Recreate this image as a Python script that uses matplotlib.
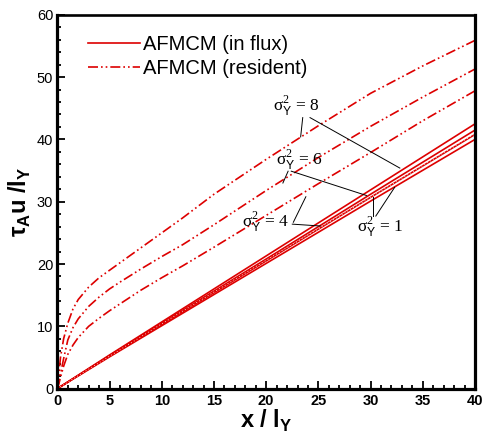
import numpy as np
import matplotlib
matplotlib.use("Agg")
from matplotlib import pyplot as plt

plt.rcParams['font.family'] = ['Liberation Sans', 'DejaVu Sans']
plt.rcParams['mathtext.fontset'] = 'custom'
plt.rcParams['mathtext.rm'] = 'Liberation Serif'
plt.rcParams['mathtext.sf'] = 'Liberation Sans'
plt.rcParams['mathtext.bf'] = 'Liberation Sans:bold'

# in flux curves (solid)
x_flux = [0, 5, 10, 20, 30, 40]
flux_s8 = [0, 5.4, 10.7, 21.3, 31.9, 42.5]
flux_s6 = [0, 5.3, 10.5, 20.8, 31.2, 41.5]
flux_s4 = [0, 5.2, 10.3, 20.5, 30.7, 40.8]
flux_s1 = [0, 5.1, 10.1, 20.1, 30.1, 40.0]

# resident curves (dash dot dot)
x_res = [0, 0.15, 0.3, 0.6, 1, 1.5, 2, 3, 4, 5, 6, 8, 10, 12, 15, 20, 25, 30, 35, 40]
res_s8 = [0, 2.5, 5.0, 8.0, 10.5, 12.8, 14.3, 16.3, 17.8, 19.0, 20.2, 22.6, 25.0, 27.4, 31.2, 36.8, 42.2, 47.4, 51.8, 55.9]
res_s6 = [0, 1.2, 2.4, 4.8, 7.8, 9.8, 11.2, 13.2, 14.7, 16.0, 17.1, 19.2, 21.2, 23.1, 26.3, 31.8, 37.1, 42.1, 46.8, 51.3]
res_s4 = [0, 0.8, 1.8, 3.6, 5.5, 7.0, 8.2, 10.0, 11.3, 12.5, 13.6, 15.8, 17.8, 19.7, 22.7, 27.8, 32.9, 37.9, 43.0, 47.8]
x_res1 = [0, 5, 10, 20, 30, 40]
res_s1 = [0, 5.2, 10.4, 20.6, 30.7, 40.9]

red = '#dd0000'
dashdotdot = (0, (6, 1.8, 1, 1.8, 1, 1.8))

fig = plt.figure(figsize=(4.82, 4.36), dpi=100)
ax = fig.add_axes([0.119, 0.1087, 0.8665, 0.8573])

l1, = ax.plot(x_flux, flux_s8, color=red, lw=1.2)
ax.plot(x_flux, flux_s6, color=red, lw=1.2)
ax.plot(x_flux, flux_s4, color=red, lw=1.2)
ax.plot(x_flux, flux_s1, color=red, lw=1.2)
l2, = ax.plot(x_res, res_s8, color=red, lw=1.2, ls=dashdotdot)
ax.plot(x_res, res_s6, color=red, lw=1.2, ls=dashdotdot)
ax.plot(x_res, res_s4, color=red, lw=1.2, ls=dashdotdot)
ax.plot(x_res1, res_s1, color='white', lw=0.6, ls=(0, (1, 3)))

ax.set_xlim(0, 40)
ax.set_ylim(0, 60)
ax.set_xticks(np.arange(0, 41, 5))
ax.set_xticks(np.arange(0, 41, 1), minor=True)
ax.set_yticks(np.arange(0, 61, 10))
ax.set_yticks(np.arange(0, 61, 2), minor=True)
ax.tick_params(which='both', direction='in', top=False, right=False, width=1.3)
ax.tick_params(which='major', length=6)
ax.tick_params(which='minor', length=3)
ax.tick_params(axis='x', labelsize=10.5, pad=4)
ax.tick_params(axis='y', labelsize=10.5, pad=3)
for lab in ax.get_xticklabels():
    lab.set_fontweight('bold')
for s in ax.spines.values():
    s.set_linewidth(2.3)
ax.spines['top'].set_linewidth(1.9)

ax.set_xlabel(r'x / l$_{\mathbf{Y}}$', fontsize=17, fontweight='bold', labelpad=0)
ax.set_ylabel(r'$\mathbf{\tau}_{\mathbf{A}}$u /l$_{\mathbf{Y}}$', fontsize=17, fontweight='bold', labelpad=3)

ax.legend([l1, l2], ['AFMCM (in flux)', 'AFMCM (resident)'], loc='upper left',
          bbox_to_anchor=(0.03, 0.995), frameon=False, fontsize=14.5,
          handlelength=2.6, handletextpad=0.15, labelspacing=0.28)

# labels with leader lines
lab_kw = dict(fontsize=12.5, family='Liberation Serif', ha='center', va='center')
sig = r'$\mathrm{\sigma}_{\mathsf{Y}}^{\mathrm{2}}$ = '
ax.text(22.9, 45.4, sig + '8', **lab_kw)
ax.text(23.2, 36.8, sig + '6', **lab_kw)
ax.text(19.9, 26.8, sig + '4', **lab_kw)
ax.text(30.9, 26.0, sig + '1', **lab_kw)

lk = dict(color='black', lw=0.7)
ax.plot([23.5, 23.3], [43.5, 40.4], **lk)
ax.plot([24.2, 32.8], [43.5, 35.4], **lk)
ax.plot([22.1, 21.6], [34.9, 33.0], **lk)
ax.plot([22.4, 29.6], [34.9, 31.0], **lk)
ax.plot([22.6, 23.8], [26.7, 30.8], **lk)
ax.plot([22.5, 25.2], [26.4, 26.1], **lk)
ax.plot([30.2, 30.2], [27.7, 30.8], **lk)
ax.plot([30.5, 32.3], [27.7, 32.3], **lk)

fig.savefig('out.png', dpi=100)
